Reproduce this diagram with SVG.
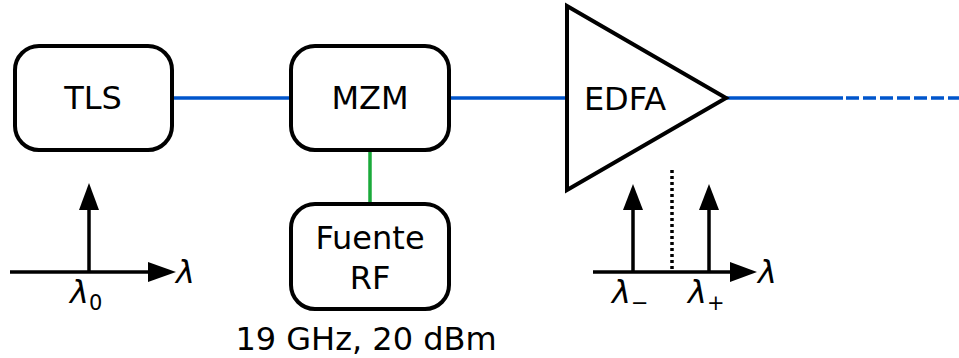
<svg xmlns="http://www.w3.org/2000/svg" width="959" height="358" viewBox="0 0 959 358">
<style>
.box{fill:#fff;stroke:#000;stroke-width:4}
.t{font-family:"DejaVu Sans",sans-serif;font-size:32px;fill:#000;text-anchor:middle}
.l{font-family:"DejaVu Sans",sans-serif;font-size:32px;font-style:italic;fill:#000}
.s{font-family:"DejaVu Sans",sans-serif;font-size:21px;fill:#000}
.ax{stroke:#000;stroke-width:3.5;fill:none}
.blue{stroke:#0055cc;stroke-width:3.5;fill:none}
</style>
<g id="connectors">
<line class="blue" x1="172" y1="98" x2="290" y2="98"/>
<line class="blue" x1="449" y1="98" x2="567" y2="98"/>
<line class="blue" x1="725" y1="98" x2="843" y2="98"/>
<line class="blue" x1="846" y1="98" x2="959" y2="98" stroke-dasharray="13,4"/>
<line x1="370" y1="150" x2="370" y2="203" stroke="#1aaa3a" stroke-width="3.5"/>
</g>
<g id="TLS">
<rect class="box" x="15" y="46" width="157" height="104" rx="24"/>
<text class="t" x="93" y="109">TLS</text>
</g>
<g id="MZM">
<rect class="box" x="291" y="46" width="158" height="104" rx="24"/>
<text class="t" x="370" y="109">MZM</text>
</g>
<g id="RF">
<rect class="box" x="291" y="204" width="158" height="105" rx="24"/>
<text class="t" x="370" y="249">Fuente</text>
<text class="t" x="370" y="289">RF</text>
<text class="t" x="366" y="350">19 GHz, 20 dBm</text>
</g>
<g id="EDFA">
<polygon class="box" points="567,6 567,190 726,98"/>
<text class="t" x="625" y="110">EDFA</text>
</g>
<g id="spectrum1">
<line class="ax" x1="10" y1="272" x2="150" y2="272"/>
<polygon points="148,262 176,272 148,282" fill="#000"/>
<line class="ax" x1="89" y1="272" x2="89" y2="208"/>
<polygon points="79,210 89,183 99,210" fill="#000"/>
<text class="l" x="176" y="283">λ</text>
<text class="l" x="70" y="303">λ</text>
<text class="s" x="89" y="310">0</text>
</g>
<g id="spectrum2">
<line class="ax" x1="593" y1="272" x2="732" y2="272"/>
<polygon points="730,262 757,272 730,282" fill="#000"/>
<line class="ax" x1="633" y1="272" x2="633" y2="208"/>
<polygon points="623,210 633,184 643,210" fill="#000"/>
<line class="ax" x1="709" y1="272" x2="709" y2="208"/>
<polygon points="699,210 709,184 719,210" fill="#000"/>
<line x1="672" y1="170" x2="672" y2="271" stroke="#000" stroke-width="3.5" stroke-dasharray="3,3"/>
<text class="l" x="758" y="283">λ</text>
<text class="l" x="612" y="303">λ</text>
<text class="s" x="631" y="310">−</text>
<text class="l" x="688" y="303">λ</text>
<text class="s" x="707" y="310">+</text>
</g>
</svg>
